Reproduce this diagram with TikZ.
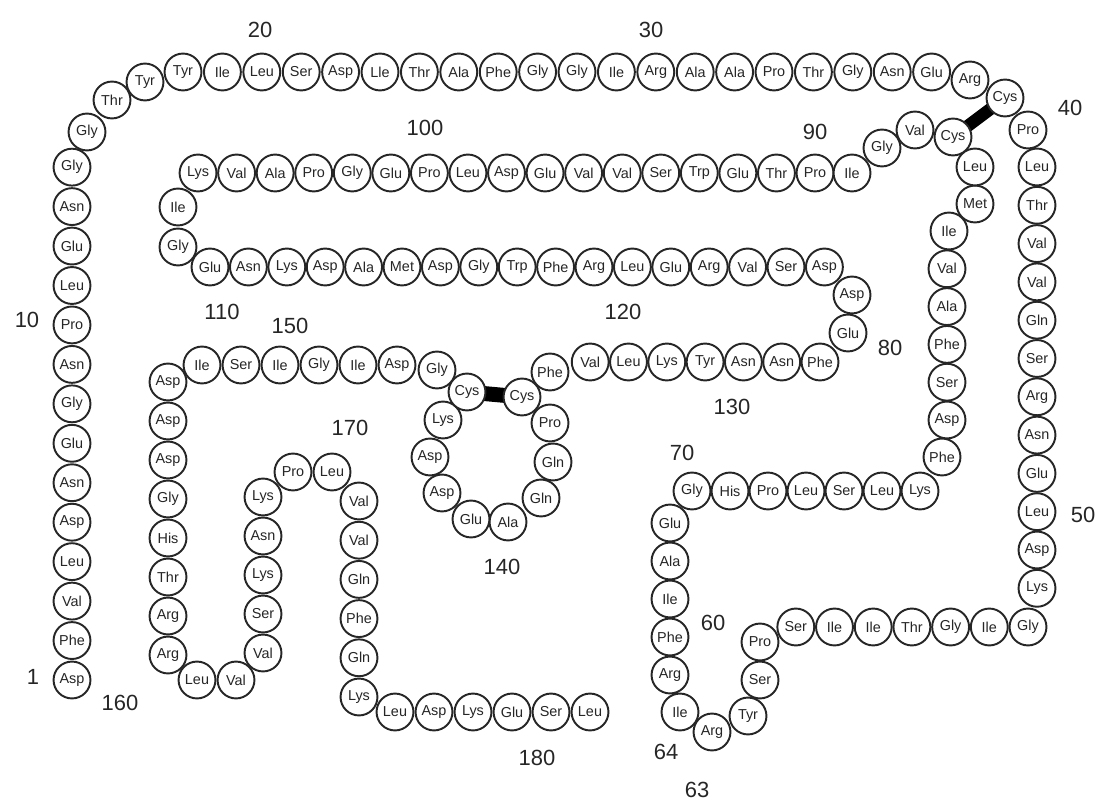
\documentclass[tikz,border=0pt]{standalone}
\usepackage{fontspec}
\setmainfont{Liberation Sans}
\usepackage{xcolor}
\usepackage{tikz}
\usetikzlibrary{backgrounds}

\begin{document}
\begin{tikzpicture}[
  x=0.02cm, y=-0.02cm,
  res/.style={circle, draw=black!85, fill=white, line width=1.1pt,
    minimum size=21pt, inner sep=0pt, text=black!85,
    font=\fontsize{8.2}{9}\selectfont},
  num/.style={text=black!85, font=\fontsize{12.5}{14}\selectfont},
  ssbond/.style={line width=7pt, draw=black},
]
\useasboundingbox (0,0) rectangle (1102,803);

\foreach \lbl [count=\k from 1] in {
  Asp,Phe,Val,Leu,Asp,Asn,Glu,Gly,Asn,Pro,Leu,Glu,Asn,Gly}{
  \node[res] (r\k) at (72,{680-(\k-1)*39.45}) {\lbl};
}

\foreach \lbl [count=\k from 18] in {
  Tyr,Ile,Leu,Ser,Asp,Lle,Thr,Ala,Phe,Gly,
  Gly,Ile,Arg,Ala,Ala,Pro,Thr,Gly,Asn,Glu}{
  \node[res] (r\k) at ({183+(\k-18)*39.4},72) {\lbl};
}

\foreach \lbl [count=\k from 41] in {
  Leu,Thr,Val,Val,Gln,Ser,Arg,Asn,Glu,Leu,Asp,Lys}{
  \node[res] (r\k) at (1037,{167+(\k-41)*38.3}) {\lbl};
}

\foreach \lbl [count=\k from 53] in {Gly,Ile,Gly,Thr,Ile,Ile,Ser}{
  \node[res] (r\k) at ({1028-(\k-53)*38.7},627) {\lbl};
}

\foreach \lbl [count=\k from 65] in {Arg,Phe,Ile,Ala,Glu}{
  \node[res] (r\k) at (670,{675-(\k-65)*38}) {\lbl};
}

\foreach \lbl [count=\k from 70] in {Gly,His,Pro,Leu,Ser,Leu,Lys}{
  \node[res] (r\k) at ({692+(\k-70)*38},491) {\lbl};
}

\foreach \lbl [count=\k from 78] in {Asp,Ser,Phe,Ala,Val}{
  \node[res] (r\k) at (947,{420-(\k-78)*37.8}) {\lbl};
}

\foreach \lbl [count=\k from 90] in {
  Pro,Thr,Glu,Trp,Ser,Val,Val,Glu,Asp,
  Leu,Pro,Glu,Gly,Pro,Ala,Val,Lys}{
  \node[res] (r\k) at ({815-(\k-90)*38.56},173) {\lbl};
}

\foreach \lbl [count=\k from 109] in {
  Glu,Asn,Lys,Asp,Ala,Met,Asp,Gly,Trp,
  Phe,Arg,Leu,Glu,Arg,Val,Ser,Asp}{
  \node[res] (r\k) at ({210+(\k-109)*38.4},267) {\lbl};
}

\foreach \lbl [count=\k from 128] in {Phe,Asn,Asn,Tyr,Lys,Leu,Val}{
  \node[res] (r\k) at ({820-(\k-128)*38.3},362) {\lbl};
}

\foreach \lbl [count=\k from 147] in {Asp,Ile,Gly,Ile,Ser,Ile}{
  \node[res] (r\k) at ({397-(\k-147)*39},365) {\lbl};
}

\foreach \lbl [count=\k from 153] in {Asp,Asp,Asp,Gly,His,Thr,Arg,Arg}{
  \node[res] (r\k) at (168,{382+(\k-153)*39}) {\lbl};
}

\foreach \lbl [count=\k from 163] in {Val,Ser,Lys,Asn,Lys}{
  \node[res] (r\k) at (263,{653-(\k-163)*39}) {\lbl};
}

\foreach \lbl [count=\k from 170] in {Val,Val,Gln,Phe,Gln,Lys}{
  \node[res] (r\k) at (359,{501+(\k-170)*39.2}) {\lbl};
}

\foreach \lbl [count=\k from 176] in {Leu,Asp,Lys,Glu,Ser,Leu}{
  \node[res] (r\k) at ({395+(\k-176)*39},712) {\lbl};
}

% turns and loops
\foreach \k/\lbl/\x/\y in {
  15/Gly/87/132, 16/Thr/112/100, 17/Tyr/145/82,
  38/Arg/970/80, 39/Cys/1005/98, 40/Pro/1028/130,
  60/Pro/760/642, 61/Ser/760/680, 62/Tyr/748/716,
  63/Arg/712/732, 64/Ile/680/712,
  77/Phe/942/457,
  83/Ile/949/231, 84/Met/975/204, 85/Leu/975/167,
  86/Cys/953/137, 87/Val/915/130, 88/Gly/882/148, 89/Ile/852/173,
  107/Ile/178/207, 108/Gly/178/247,
  126/Asp/852/295, 127/Glu/848/333,
  135/Phe/550/372, 136/Cys/522/397, 137/Pro/550/423,
  138/Gln/553/462, 139/Gln/541/498, 140/Ala/508/522,
  141/Glu/471/519, 142/Asp/442/493, 143/Asp/430/457,
  144/Lys/443/420, 145/Cys/467/392, 146/Gly/437/370,
  161/Leu/197/680, 162/Val/236/680,
  168/Pro/293/472, 169/Leu/332/472}{
  \node[res] (r\k) at (\x,\y) {\lbl};
}

\begin{scope}[on background layer]
\draw[ssbond] (r39.center) -- (r86.center);
\draw[ssbond, line width=8.5pt] (r145.center) -- (r136.center);
\end{scope}

\foreach \t/\x/\y in {
  1/33/677, 10/27/320, 20/260/30, 30/651/30, 40/1070/108,
  50/1083/515, 60/713/623, 63/697/790, 64/666/752, 70/682/453,
  80/890/348, 90/815/132, 100/425/128, 110/222/312, 120/623/312,
  130/732/407, 140/502/567, 150/290/326, 160/120/703,
  170/350/428, 180/537/758}{
  \node[num] (n\t) at (\x,\y) {\t};
}

\end{tikzpicture}
\end{document}
